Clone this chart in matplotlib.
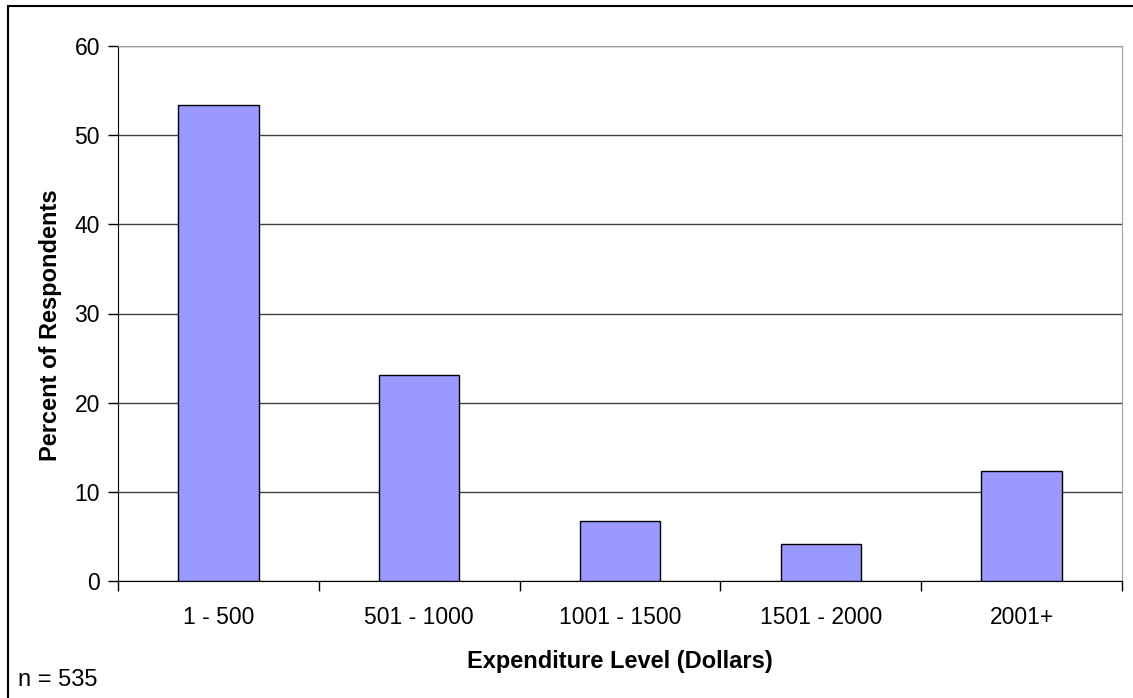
import numpy as np
import matplotlib.pyplot as plt

plt.rcParams['font.family'] = ['Liberation Sans', 'DejaVu Sans']

# Survey data
categories = ['1 - 500', '501 - 1000', '1001 - 1500', '1501 - 2000', '2001+']
percents = [53.4, 23.1, 6.7, 4.1, 12.3]
y_ticks = [0, 10, 20, 30, 40, 50, 60]

fig = plt.figure(figsize=(11.33, 6.98), dpi=100)

# outer chart border
fig.patches.append(plt.Rectangle((8 / 1133, -0.01), 1.02, 1 - 6 / 698 + 0.01,
                                 transform=fig.transFigure, fill=False,
                                 edgecolor='black', linewidth=1.5))

ax = fig.add_axes([118 / 1133, 1 - 581 / 698, (1122 - 118) / 1133, (581 - 46) / 698])

x = np.arange(len(categories))
ax.bar(x, percents, width=0.4, color='#9999ff', edgecolor='black',
       linewidth=1, zorder=3)

ax.set_xlim(-0.5, len(categories) - 0.5)
ax.set_ylim(0, 60)
ax.set_yticks(y_ticks)
ax.yaxis.grid(True, color='#404040', linewidth=1, zorder=0)

# ticks between categories on the x axis, labels centred under bars
ax.set_xticks(np.arange(-0.5, len(categories), 1.0))
ax.set_xticklabels([])
ax.set_xticks(x, minor=True)
ax.set_xticklabels(categories, minor=True)
ax.tick_params(axis='x', which='minor', length=0, pad=18, labelsize=16.5)
ax.tick_params(axis='x', which='major', direction='out', length=7, width=1)
ax.tick_params(axis='y', direction='out', length=7, width=1, labelsize=16.5, pad=6)

for side in ['top', 'right']:
    ax.spines[side].set_color('#a0a0a0')
ax.spines['left'].set_color('black')
ax.spines['bottom'].set_color('black')

ax.set_xlabel('Expenditure Level (Dollars)', fontsize=17, fontweight='bold')
ax.xaxis.label.set_va('center')
ax.xaxis.set_label_coords(0.5, -0.151)
ax.set_ylabel('Percent of Respondents', fontsize=17, fontweight='bold')
ax.yaxis.label.set_va('center')
ax.yaxis.set_label_coords(-0.0677, 0.478)

fig.text(18 / 1133, 1 - 680 / 698, 'n = 535', fontsize=17, va='center')

fig.savefig('out.png', dpi=100)
